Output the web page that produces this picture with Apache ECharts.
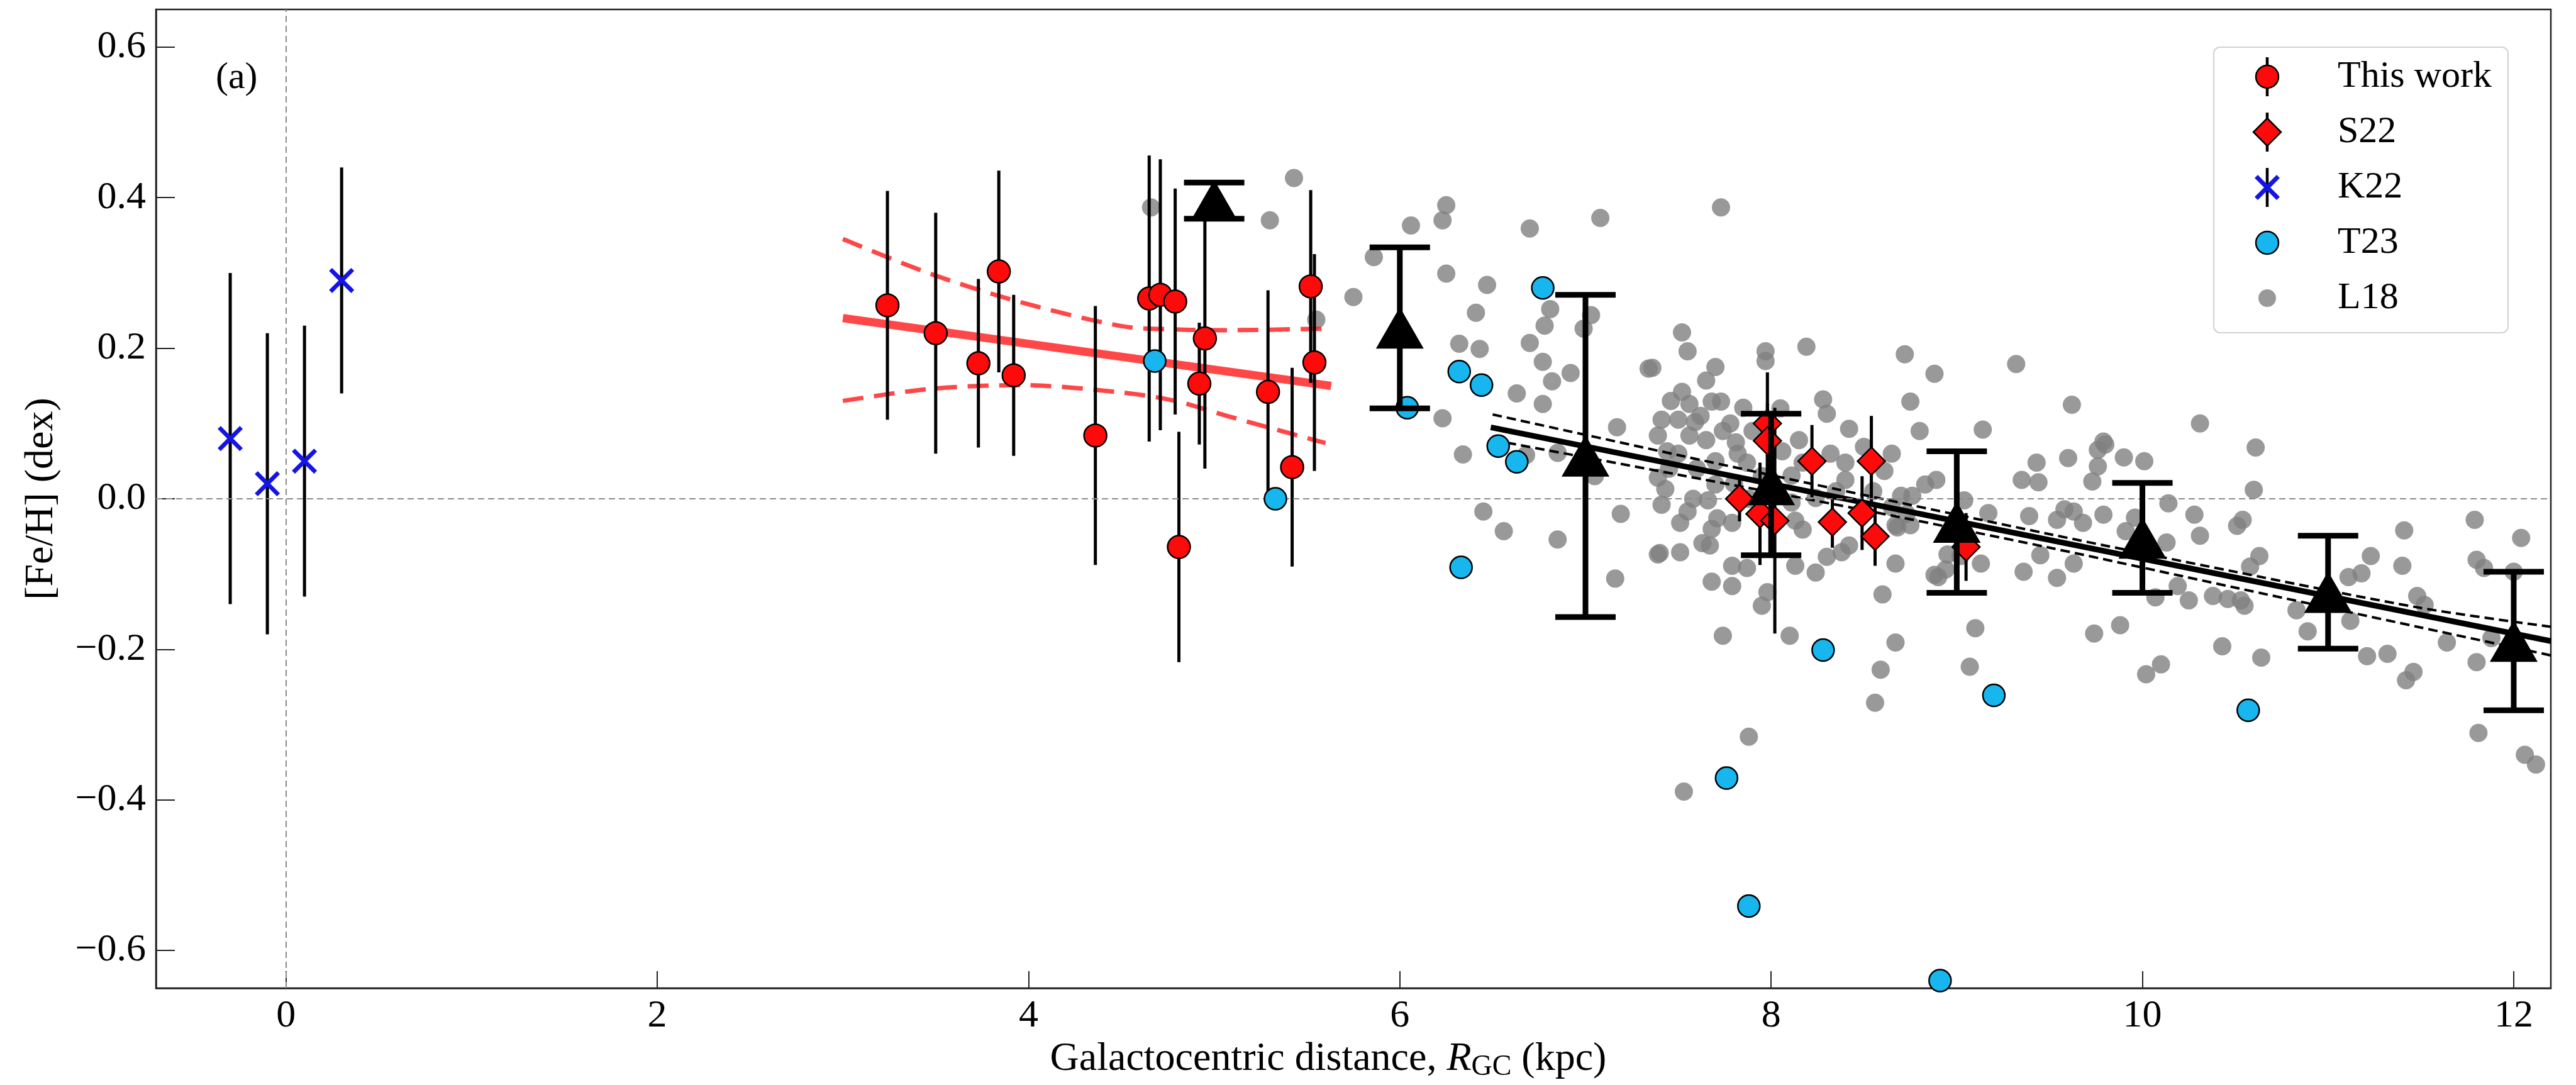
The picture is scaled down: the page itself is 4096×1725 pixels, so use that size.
<!DOCTYPE html>
<html>
<head>
<meta charset="utf-8">
<title>[Fe/H] vs R_GC</title>
<script src="https://cdn.jsdelivr.net/npm/echarts@6/dist/echarts.min.js"></script>
<style>
html, body { margin: 0; padding: 0; background: #fff; }
#chart { width: 4096px; height: 1725px; }
</style>
</head>
<body>
<div id="chart"></div>
<script>
var FONT = 'Liberation Serif';

// axis ticks
var xTicks = [0, 2, 4, 6, 8, 10, 12];
var yTicks = [-0.6, -0.4, -0.2, 0, 0.2, 0.4, 0.6];

// This work (red circles)
var twR   = [3.24, 3.50, 3.73, 3.84, 3.92, 4.36, 4.65, 4.71, 4.79, 4.95, 4.92, 4.81, 5.29, 5.42, 5.52, 5.54];
var twFe  = [0.257, 0.220, 0.180, 0.302, 0.164, 0.084, 0.266, 0.271, 0.262, 0.213, 0.153, -0.064, 0.142, 0.042, 0.282, 0.181];
var twErr = [0.152, 0.160, 0.112, 0.134, 0.107, 0.172, 0.190, 0.180, 0.150, 0.173, 0.081, 0.153, 0.135, 0.132, 0.128, 0.144];

// S22 (red diamonds)
var s22R   = [7.83, 7.94, 7.98, 7.98, 8.02, 8.22, 8.33, 8.49, 8.54, 8.56, 9.05];
var s22Fe  = [0.000, -0.020, 0.100, 0.077, -0.029, 0.050, -0.031, -0.019, 0.050, -0.050, -0.064];
var s22Err = [0.030, 0.068, 0.068, 0.050, 0.150, 0.048, 0.034, 0.049, 0.060, 0.039, 0.045];

// K22 (blue crosses)
var k22R   = [-0.30, -0.10, 0.10, 0.30];
var k22Fe  = [0.08, 0.02, 0.05, 0.29];
var k22Err = [0.22, 0.20, 0.18, 0.15];

// T23 (cyan circles)
var t23R  = [4.68, 5.33, 6.04, 6.32, 6.44, 6.53, 6.63, 6.77, 6.33, 8.28, 7.76, 7.88, 8.91, 9.20, 10.57];
var t23Fe = [0.183, 0.000, 0.121, 0.169, 0.151, 0.070, 0.049, 0.280, -0.091, -0.201, -0.371, -0.541, -0.640, -0.261, -0.281];

// binned means (black triangles)
var binR   = [5, 6, 7, 8, 9, 10, 11, 12];
var binFe  = [0.396, 0.227, 0.057, 0.019, -0.031, -0.052, -0.124, -0.189];
var binErr = [0.024, 0.107, 0.214, 0.094, 0.094, 0.073, 0.075, 0.092];

// fit to this work (red) and its band
var redFitR = [3.00, 5.63];
var redFitFe = [0.240, 0.150];
var redBandR = [3.00, 3.47, 3.96, 4.51, 4.79, 5.07, 5.60];
var redUpFe  = [0.345, 0.299, 0.261, 0.229, 0.225, 0.224, 0.226];
var redLoFe  = [0.130, 0.146, 0.151, 0.141, 0.130, 0.110, 0.074];

// fit to bins (black) and its band
var blkFitR = [6.49, 12.2];
var blkFitFe = [0.095, -0.189];
var blkBandR = [6.50, 7.50, 8.50, 9.50, 10.50, 11.50, 12.20];
var blkUpFe  = [0.112, 0.058, 0.005, -0.047, -0.097, -0.145, -0.170];
var blkLoFe  = [0.078, 0.032, -0.015, -0.065, -0.118, -0.171, -0.208];

// L18 (grey points) [R_GC, [Fe/H]]
var l18 = [
  [4.66,0.387],[5.30,0.370],[5.43,0.426],[5.55,0.238],[5.75,0.268],[5.86,0.321],
  [6.06,0.363],[6.25,0.390],[6.23,0.370],[6.70,0.359],[7.08,0.373],[7.73,0.387],
  [6.25,0.299],[6.47,0.284],[6.41,0.247],[6.81,0.252],[6.78,0.230],[7.03,0.244],[6.99,0.226],
  [6.32,0.206],[6.43,0.199],[6.70,0.207],[6.77,0.182],[6.82,0.156],[6.92,0.167],[6.63,0.140],[6.77,0.126],
  [6.23,0.107],[6.34,0.059],[7.34,0.173],[7.17,0.095],[6.85,0.061],[6.68,0.058],[7.05,0.030],
  [6.45,-0.017],[6.56,-0.043],[6.85,-0.054],[7.19,-0.020],[7.40,-0.072],[7.16,-0.106],
  [7.52,0.221],[7.55,0.196],[7.36,0.174],[7.70,0.175],[7.65,0.157],[7.97,0.196],[7.97,0.183],[8.19,0.202],
  [8.72,0.192],[8.88,0.166],[8.75,0.129],[8.80,0.090],[8.28,0.132],[8.30,0.113],[8.42,0.093],
  [7.52,0.142],[7.56,0.126],[7.68,0.129],[7.73,0.129],[7.85,0.121],[7.41,0.105],[7.50,0.105],[7.59,0.102],
  [7.74,0.090],[7.81,0.075],[7.65,0.078],[7.56,0.084],[7.39,0.084],[8.15,0.078],[8.32,0.060],[8.40,0.048],
  [8.50,0.069],[8.06,0.063],[7.44,0.063],[7.82,0.060],[7.87,0.048],[7.39,0.028],[7.43,0.013],[7.41,-0.008],
  [7.55,-0.017],[7.66,-0.002],[7.70,0.019],[8.11,0.031],[8.17,0.048],[8.40,0.025],[8.83,0.019],[8.89,0.025],
  [8.70,0.004],[8.67,-0.035],[8.75,-0.035],[8.13,-0.029],[8.17,-0.041],[7.71,-0.026],[7.79,-0.032],[7.51,-0.032],
  [7.63,-0.059],[7.39,-0.074],[7.51,-0.071],[7.67,-0.062],[7.79,-0.089],[7.87,-0.092],[7.68,-0.110],[7.79,-0.116],
  [7.98,-0.124],[7.95,-0.142],[8.13,-0.089],[8.24,-0.098],[8.30,-0.077],[8.38,-0.071],[8.42,-0.062],[8.67,-0.086],
  [8.60,-0.127],[8.90,-0.104],[8.95,-0.074],[8.24,0.001],[8.61,0.037],[8.76,0.004],[8.01,0.007],[8.11,-0.005],
  [7.62,0.110],[7.78,0.100],[7.90,0.090],[7.70,0.050],[7.60,0.040],[7.95,0.030],[7.50,0.060],[7.46,0.130],
  [7.80,0.020],[7.68,-0.040],[7.58,0.000],[7.88,0.000],[7.45,0.040],[8.05,0.120],[8.35,0.010],[8.55,0.010],[8.65,0.060],
  [7.74,-0.182],[8.10,-0.182],[8.67,-0.191],[8.59,-0.227],[8.56,-0.271],[7.88,-0.316],[7.53,-0.389],
  [9.07,-0.223],[9.10,-0.172],[8.88,-0.101],
  [9.32,0.179],[9.62,0.125],[10.31,0.100],[9.14,0.092],[10.61,0.068],[9.43,0.048],[9.60,0.054],[9.80,0.072],
  [9.76,0.065],[9.76,0.043],[9.90,0.055],[10.01,0.050],[9.73,0.023],[9.35,0.025],[9.44,0.022],[10.60,0.012],
  [9.04,-0.002],[9.17,-0.019],[9.39,-0.023],[9.54,-0.028],[9.63,-0.017],[9.79,-0.021],[9.68,-0.032],[9.96,-0.025],
  [10.14,-0.006],[10.28,-0.021],[10.31,-0.049],[10.51,-0.036],[9.91,-0.043],[10.13,-0.058],[9.45,-0.075],[9.63,-0.086],
  [9.13,-0.086],[9.36,-0.097],[9.54,-0.105],[10.19,-0.116],[10.25,-0.135],[10.07,-0.131],[10.38,-0.129],[10.46,-0.133],
  [10.53,-0.135],[10.55,-0.142],[9.74,-0.179],[9.88,-0.168],[10.43,-0.196],[10.02,-0.233],[10.10,-0.220],[10.54,-0.028],
  [9.58,-0.014],[9.79,0.076],[9.02,-0.076],[8.94,-0.094],[8.65,-0.011],[8.73,-0.020],[8.68,-0.038],
  [10.63,-0.076],[10.58,-0.090],[10.64,-0.211],[10.83,-0.148],[10.89,-0.176],[11.11,-0.104],[11.18,-0.099],[11.23,-0.076],
  [11.12,-0.162],[11.21,-0.209],[11.32,-0.206],[11.41,-0.042],[11.40,-0.089],[11.48,-0.129],[11.52,-0.141],[11.42,-0.241],
  [11.46,-0.230],[11.64,-0.191],[11.79,-0.028],[11.80,-0.081],[11.84,-0.092],[12.00,-0.097],[12.04,-0.052],[11.80,-0.217],
  [11.81,-0.311],[12.06,-0.340],[12.12,-0.353],[11.88,-0.185]
];

var RED = '#ff0a0a', CYAN = '#18b6ee', BLUE = '#1414e6', GREY = 'rgba(128,128,128,0.8)';
var FIT_RED = 'rgba(255,30,30,0.82)';
var XMARK = 'path://M12,0 L50,38 L88,0 L100,12 L62,50 L100,88 L88,100 L50,62 L12,100 L0,88 L38,50 L0,12 Z';

function pairs(xs, ys) {
  return xs.map(function (x, i) { return [x, ys[i]]; });
}
function bars(xs, ys, es) {
  return xs.map(function (x, i) { return [x, ys[i] - es[i], ys[i] + es[i]]; });
}
// vertical error bar, optional caps
function errItem(capHalf, width) {
  return function (params, api) {
    var hi = api.coord([api.value(0), api.value(2)]);
    var lo = api.coord([api.value(0), api.value(1)]);
    var st = { stroke: '#000', lineWidth: width };
    var kids = [{ type: 'line', shape: { x1: hi[0], y1: hi[1], x2: lo[0], y2: lo[1] }, style: st }];
    if (capHalf > 0) {
      kids.push({ type: 'line', shape: { x1: hi[0] - capHalf, y1: hi[1], x2: hi[0] + capHalf, y2: hi[1] }, style: st });
      kids.push({ type: 'line', shape: { x1: lo[0] - capHalf, y1: lo[1], x2: lo[0] + capHalf, y2: lo[1] }, style: st });
    }
    return { type: 'group', children: kids };
  };
}
function errSeries(name, data, capHalf, width, z) {
  return { name: name, type: 'custom', data: data, z: z, silent: true,
    encode: { x: 0, y: [1, 2] }, renderItem: errItem(capHalf, width) };
}
function lineSeries(name, data, color, width, type, smooth, z) {
  return { name: name, type: 'line', data: data, z: z, silent: true, symbol: 'none',
    smooth: smooth, lineStyle: { color: color, width: width, type: type, cap: 'butt' } };
}

// legend drawn as a box (matplotlib style)
var legRows = [
  { text: 'This work', stem: true, mark: { type: 'circle', shape: { r: 18 }, style: { fill: RED, stroke: '#000', lineWidth: 2.5 } } },
  { text: 'S22', stem: true, mark: { type: 'polygon', shape: { points: [[0, -22], [22, 0], [0, 22], [-22, 0]] }, style: { fill: RED, stroke: '#000', lineWidth: 2.5 } } },
  { text: 'K22', stem: true, mark: { type: 'polygon', shape: { points: [[-15, -20], [0, -5], [15, -20], [20, -15], [5, 0], [20, 15], [15, 20], [0, 5], [-15, 20], [-20, 15], [-5, 0], [-20, -15]] }, style: { fill: BLUE } } },
  { text: 'T23', stem: false, mark: { type: 'circle', shape: { r: 18 }, style: { fill: CYAN, stroke: '#000', lineWidth: 2.5 } } },
  { text: 'L18', stem: false, mark: { type: 'circle', shape: { r: 14 }, style: { fill: GREY } } }
];
var legKids = [{ type: 'rect', shape: { x: 0, y: 0, width: 468, height: 454, r: 10 },
  style: { fill: 'rgba(255,255,255,0.85)', stroke: '#d2d2d2', lineWidth: 2 } }];
legRows.forEach(function (row, i) {
  var cy = 47 + 88 * i;
  if (row.stem) {
    legKids.push({ type: 'line', shape: { x1: 85, y1: cy - 31, x2: 85, y2: cy + 31 }, style: { stroke: '#000', lineWidth: 4.5 } });
  }
  var m = row.mark;
  m.x = 85; m.y = cy;
  legKids.push(m);
  legKids.push({ type: 'text', x: 197, y: cy, style: { text: row.text, fill: '#000',
    font: '60px "' + FONT + '"', verticalAlign: 'middle', align: 'left' } });
});

var option = {
  animation: false,
  backgroundColor: '#fff',
  grid: { left: 248, right: 40, top: 15, bottom: 154, show: true, borderColor: '#222', borderWidth: 2.5, backgroundColor: 'transparent' },
  xAxis: {
    type: 'value', min: -0.7, max: 12.2,
    name: '{n|Galactocentric distance, }{i|R}{s|GC}{n| (kpc)}',
    nameLocation: 'middle', nameGap: 70,
    nameTextStyle: { color: '#000', fontFamily: FONT, fontSize: 64, padding: [0, 80, 0, 0],
      rich: {
        n: { fontFamily: FONT, fontSize: 64, lineHeight: 72, color: '#000' },
        i: { fontFamily: FONT, fontSize: 64, lineHeight: 72, fontStyle: 'italic', color: '#000' },
        s: { fontFamily: FONT, fontSize: 46, lineHeight: 38, verticalAlign: 'bottom', color: '#000' }
      } },
    axisLine: { show: true, onZero: false, lineStyle: { color: '#222', width: 2.5 } },
    axisTick: { show: true, inside: true, length: 27, lineStyle: { color: '#222', width: 2 }, customValues: xTicks },
    axisLabel: { color: '#000', fontFamily: FONT, fontSize: 62, margin: 14, customValues: xTicks },
    splitLine: { show: false }
  },
  yAxis: {
    type: 'value', min: -0.65, max: 0.65,
    name: '[Fe/H] (dex)', nameLocation: 'middle', nameGap: 150,
    nameTextStyle: { color: '#000', fontFamily: FONT, fontSize: 64 },
    axisLine: { show: true, onZero: false, lineStyle: { color: '#222', width: 2.5 } },
    axisTick: { show: true, inside: true, length: 30, lineStyle: { color: '#222', width: 2 }, customValues: yTicks },
    axisLabel: { color: '#000', fontFamily: FONT, fontSize: 62, margin: 16, customValues: yTicks,
      formatter: function (v) { return (v < 0 ? '\u2212' : '') + Math.abs(v).toFixed(1); } },
    splitLine: { show: false }
  },
  graphic: [
    { type: 'text', x: 343, y: 124, z: 100, style: { text: '(a)', fill: '#000', font: '60px "' + FONT + '"', verticalAlign: 'middle' } },
    { type: 'group', x: 3520, y: 75, z: 100, children: legKids }
  ],
  series: [
    { name: 'L18', type: 'scatter', data: l18, z: 2, symbolSize: 29, itemStyle: { color: GREY, opacity: 1 },
      markLine: { silent: true, symbol: 'none', label: { show: false },
        lineStyle: { color: '#8a8a8a', width: 2, type: [10, 6] },
        data: [{ xAxis: 0 }, { yAxis: 0 }] } },
    lineSeries('fit red', pairs(redFitR, redFitFe), FIT_RED, 13, 'solid', false, 3),
    lineSeries('band red up', pairs(redBandR, redUpFe), FIT_RED, 7, [33, 17], 0.3, 3),
    lineSeries('band red lo', pairs(redBandR, redLoFe), FIT_RED, 7, [33, 17], 0.3, 3),
    lineSeries('fit black', pairs(blkFitR, blkFitFe), '#000', 9, 'solid', false, 3),
    lineSeries('band black up', pairs(blkBandR, blkUpFe), '#000', 4, [15, 8], 0.3, 3),
    lineSeries('band black lo', pairs(blkBandR, blkLoFe), '#000', 4, [15, 8], 0.3, 3),
    errSeries('This work err', bars(twR, twFe, twErr), 0, 5, 4),
    errSeries('S22 err', bars(s22R, s22Fe, s22Err), 0, 5, 4),
    errSeries('K22 err', bars(k22R, k22Fe, k22Err), 0, 5, 4),
    { name: 'T23', type: 'scatter', data: pairs(t23R, t23Fe), z: 5, symbolSize: 35,
      itemStyle: { color: CYAN, borderColor: '#000', borderWidth: 2.5, opacity: 1 } },
    { name: 'This work', type: 'scatter', data: pairs(twR, twFe), z: 6, symbolSize: 36,
      itemStyle: { color: RED, borderColor: '#000', borderWidth: 2.5, opacity: 1 } },
    { name: 'S22', type: 'scatter', data: pairs(s22R, s22Fe), z: 6, symbol: 'diamond', symbolSize: 44,
      itemStyle: { color: RED, borderColor: '#000', borderWidth: 2.5, opacity: 1 } },
    { name: 'K22', type: 'scatter', data: pairs(k22R, k22Fe), z: 6, symbol: XMARK, symbolSize: 40,
      itemStyle: { color: BLUE, opacity: 1 } },
    errSeries('bin err', bars(binR, binFe, binErr), 48, 9, 7),
    { name: 'bins', type: 'scatter', data: pairs(binR, binFe), z: 8, symbol: 'triangle', symbolSize: [76, 66],
      itemStyle: { color: '#000', opacity: 1 } }
  ]
};

var chart = echarts.init(document.getElementById('chart'));
chart.setOption(option);
</script>
</body>
</html>
